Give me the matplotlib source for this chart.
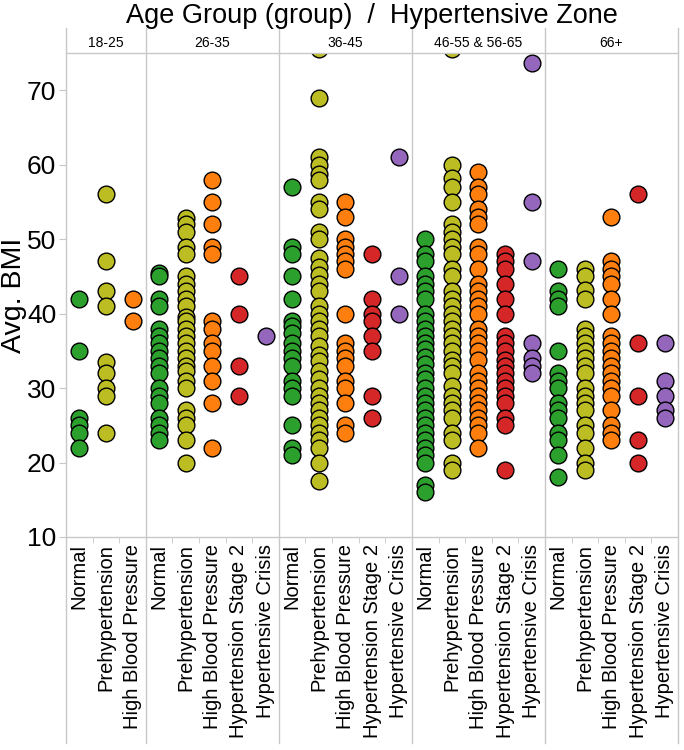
import matplotlib.pyplot as plt
from matplotlib.lines import Line2D

plt.rcParams['font.family'] = ['Liberation Sans', 'DejaVu Sans']

age_groups = ['18-25', '26-35', '36-45', '46-55 & 56-65', '66+']
zones = ['Normal', 'Prehypertension', 'High Blood Pressure',
         'Hypertension Stage 2', 'Hypertensive Crisis']
zone_colors = ['#2ca02c', '#bcbd22', '#ff7f0e', '#d62728', '#9467bd']

# avg BMI per zone, one list of lists per age group
bmi_18_25 = [
    [42, 35, 26, 25, 24, 22],
    [56, 47, 43, 41, 33.5, 32, 30, 29, 24],
    [42, 39],
]
bmi_26_35 = [
    [45.5, 45, 42, 41, 38, 37, 36, 35, 34, 33, 32, 30, 29, 28, 26, 25, 24, 23],
    [52.8, 52, 51, 49, 48, 45, 44, 43, 42, 41, 39.6, 39, 38, 37, 36, 35, 34, 33,
     32.3, 31, 30, 27, 26, 25, 23, 20],
    [58, 55, 52, 49, 48, 39, 38, 36, 35, 33, 31, 28, 22],
    [45, 40, 33, 29],
    [37],
]
bmi_36_45 = [
    [57, 49, 48, 45, 42, 39, 38.3, 37.4, 36, 35, 34, 33, 31, 30, 29, 25, 22, 21],
    [75.5, 69, 61, 60, 58.8, 58, 55, 54, 51, 50, 47.5, 46.3, 45.2, 44, 43, 41, 40,
     39, 38, 37, 35.6, 34.5, 33.6, 32.3, 31.2, 30, 29, 28, 27, 26, 25, 24, 23, 22,
     20, 17.5],
    [55, 53, 50, 49, 48, 47, 46, 40, 36, 35, 34, 33, 31, 30, 28, 25, 24],
    [48, 42, 40, 39, 37, 35, 29, 26],
    [61, 45, 40],
]
bmi_46_65 = [
    [50, 48, 47, 45, 44, 43, 42, 40, 39, 38, 37, 36, 35.3, 34.2, 33.3, 32, 31.2,
     30, 29, 28, 27, 26, 25, 24, 23, 22, 21, 20, 17, 16],
    [75.5, 60, 58.2, 57, 55, 52, 51, 50, 49, 48, 46, 45, 43, 42, 41, 40, 39, 38,
     37, 36, 35, 33.8, 33, 32, 30.3, 29, 28, 27, 26, 24, 23, 20, 19],
    [59, 57, 56, 54, 53, 52, 49, 48, 46, 44, 43, 42, 41, 40, 38, 37, 36, 35, 33.8,
     32, 31, 30, 29, 28, 27, 26, 25, 24, 22],
    [48, 47, 46, 44, 42, 40, 37, 36, 35, 33.8, 33, 32, 31, 30, 29, 28, 26, 25, 19],
    [73.7, 55, 47, 36, 34, 33, 32],
]
bmi_66 = [
    [46, 43, 42, 41, 35, 32, 31, 30, 28, 27, 26, 24, 23, 21, 18],
    [46, 45, 43.2, 42, 38, 37, 36, 35, 34, 33, 32, 30, 29, 28, 27, 25, 24, 22, 20, 19],
    [53, 47, 46, 45, 44, 42, 40, 37, 36, 35, 34, 33, 32, 31, 30, 29, 27, 25, 24, 23],
    [56, 36, 29, 23, 20],
    [36, 31, 29, 27, 26],
]
all_groups = [bmi_18_25, bmi_26_35, bmi_36_45, bmi_46_65, bmi_66]

fig = plt.figure(figsize=(6.84, 7.5), dpi=100)
left, right = 66 / 684, 678 / 684
bottom, top = 1 - 537 / 750, 1 - 53 / 750
gs = fig.add_gridspec(1, 5, width_ratios=[len(g) for g in all_groups],
                      left=left, right=right, bottom=bottom, top=top, wspace=0)

grid_col = '#c8c8c8'
axes = []
for i, (name, group) in enumerate(zip(age_groups, all_groups)):
    ax = fig.add_subplot(gs[0, i])
    axes.append(ax)
    for j, vals in enumerate(group):
        ax.scatter([j] * len(vals), vals, s=145, color=zone_colors[j],
                   edgecolor='black', linewidth=1.0, zorder=3)
    ax.set_xlim(-0.5, len(group) - 0.5)
    ax.set_ylim(10, 75)
    ax.set_xticks(range(len(group)))
    ax.set_xticklabels(zones[:len(group)], rotation=90, fontsize=14.5)
    ax.set_xticks([k + 0.5 for k in range(len(group) - 1)], minor=True)
    ax.tick_params(axis='x', which='major', length=0, pad=5)
    ax.tick_params(axis='x', which='minor', length=4, color=grid_col)
    for s in ax.spines.values():
        s.set_visible(False)
    ax.text(0.5, 1.021, name, transform=ax.transAxes, ha='center', va='center',
            fontsize=10)
    if i == 0:
        ax.set_yticks([10, 20, 30, 40, 50, 60, 70])
        ax.tick_params(axis='y', labelsize=19, length=5, color=grid_col, pad=2)
        ax.set_ylabel('Avg. BMI', fontsize=20.5, labelpad=0)
    else:
        ax.set_yticks([])

# panel separators, header line and baseline
for ax in axes:
    x0 = ax.get_position().x0
    fig.add_artist(Line2D([x0, x0], [1 - 743 / 750, 1 - 28 / 750],
                          color=grid_col, linewidth=1))
fig.add_artist(Line2D([right, right], [1 - 743 / 750, 1 - 28 / 750],
                      color=grid_col, linewidth=1))
fig.add_artist(Line2D([left, right], [top, top], color=grid_col, linewidth=1))
fig.add_artist(Line2D([left, right], [bottom, bottom], color=grid_col, linewidth=1))

fig.text((left + right) / 2, 1 - 16 / 750, 'Age Group (group)  /  Hypertensive Zone',
         ha='center', va='center', fontsize=19.5)

fig.savefig('out.png', dpi=100)
